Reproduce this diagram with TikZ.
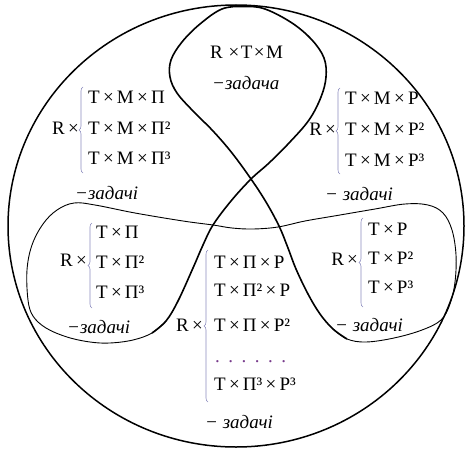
\documentclass[tikz,border=0pt]{standalone}
\usepackage{fontspec}
\setmainfont{Liberation Serif}
\usetikzlibrary{decorations.pathreplacing}
\newcommand\tms{\hspace{0.17em}×\hspace{0.17em}}
\begin{document}
\begin{tikzpicture}[x=1pt,y=-1pt,
  lbl/.style={font=\fontsize{19}{21}\selectfont, inner sep=0pt, anchor=base west},
  ital/.style={font=\fontsize{19}{21}\selectfont\itshape, inner sep=0pt, anchor=base west},
  rx/.style={font=\fontsize{19}{21}\selectfont, inner sep=0pt, anchor=base east},
  bracestyle/.style={decorate, decoration={brace, amplitude=4pt}, draw={rgb,255:red,140;green,140;blue,190}, line width=0.6pt},
  outerline/.style={line width=1.5pt},
  thickline/.style={line width=1.6pt, line join=round},
  thinline/.style={line width=0.9pt, line join=round}]
\useasboundingbox (0,0) rectangle (465,452);
% outer circle
\draw[outerline] (236,226) ellipse [x radius=228, y radius=221];
% thin part of the closed curve
\draw[thinline] plot[smooth, tension=0.6] coordinates {
 (166,321) (152,333) (133,340) (110,343) (90,342) (67,337) (46,328) (33,316)
 (28,300) (27,270) (32,245) (43,224) (57,210) (74,203) (95,205) (135,213)
 (183,221) (213,225) (232,228) (253,229) (278,227) (305,221) (340,215)
 (375,209) (405,204) (428,205) (443,213) (452,230) (456,255) (455,282)
 (450,304) (441,320) (422,330) (394,338) (366,342) (347,339) (333,329)};
% thick part
\draw[thickline] plot[smooth, tension=0.6] coordinates {
 (152,333) (166,321) (178,301) (193,268) (203,245) (213,225) (231,201)
 (251,179) (269,163) (289,143) (309,120) (321,97) (326,77) (324,58)
 (312,40) (292,23) (265,9) (244,6.5) (222,9) (200,24) (182,42) (171,60)
 (170,77) (177,93) (193,111) (213,131) (232,153) (251,179) (266,202)
 (279,226) (288,248) (296,269) (308,294) (320,314) (333,329) (347,339)};
% top
\node[lbl] (t1) at (210,59) {R\hspace{0.3em}×\hspace{0.08em}T\hspace{0.08em}×\hspace{0.08em}M};
\node[ital] (t2) at (212,89) {−задача};
% upper left
\node[rx] (ulr) at (79,134) {R\,×};
\draw[bracestyle] (83,173) -- (83,87) coordinate[pos=0.5] (ulb);
\node[lbl] (ul1) at (88,103) {T\tms M\tms Π};
\node[lbl] (ul2) at (88,134) {T\tms M\tms Π²};
\node[lbl] (ul3) at (88,164) {T\tms M\tms Π³};
\node[ital] (ul4) at (75,199) {−задачі};
% upper right
\node[rx] (urr) at (336,135) {R\,×};
\draw[bracestyle] (340,174) -- (340,88) coordinate[pos=0.5] (urb);
\node[lbl] (ur1) at (345,104) {T\tms M\tms P};
\node[lbl] (ur2) at (345,135) {T\tms M\tms P²};
\node[lbl] (ur3) at (345,166) {T\tms M\tms P³};
\node[ital] (ur4) at (325,200) {− задачі};
% lower left
\node[rx] (llr) at (87,266) {R\,×};
\draw[bracestyle] (92,308) -- (92,223) coordinate[pos=0.5] (llb);
\node[lbl] (ll1) at (96,238) {T\tms Π};
\node[lbl] (ll2) at (96,268) {T\tms Π²};
\node[lbl] (ll3) at (96,298) {T\tms Π³};
\node[ital] (ll4) at (67,333) {−задачі};
% lower right
\node[rx] (lrr) at (358,265) {R\,×};
\draw[bracestyle] (363,307) -- (363,218) coordinate[pos=0.5] (lrb);
\node[lbl] (lr1) at (368,235) {T\tms P};
\node[lbl] (lr2) at (368,264) {T\tms P²};
\node[lbl] (lr3) at (368,293) {T\tms P³};
\node[ital] (lr4) at (335,331) {− задачі};
% bottom centre
\node[rx] (bcr) at (203,331) {R\,×};
\draw[bracestyle] (208,402) -- (208,250) coordinate[pos=0.5] (bcb);
\node[lbl] (bc1) at (214,268) {T\tms Π\tms P};
\node[lbl] (bc2) at (214,296) {T\tms Π²\tms P};
\node[lbl] (bc3) at (214,331) {T\tms Π\tms P²};
\node[lbl, text={rgb,255:red,120;green,60;blue,140}] (bc4) at (215,362) {.\hspace{8.5pt}.\hspace{8.5pt}.\hspace{8.5pt}.\hspace{8.5pt}.\hspace{8.5pt}.};
\node[lbl] (bc5) at (214,390) {T\tms Π³\tms P³};
\node[ital] (bc6) at (205,428) {− задачі};
\end{tikzpicture}
\end{document}
